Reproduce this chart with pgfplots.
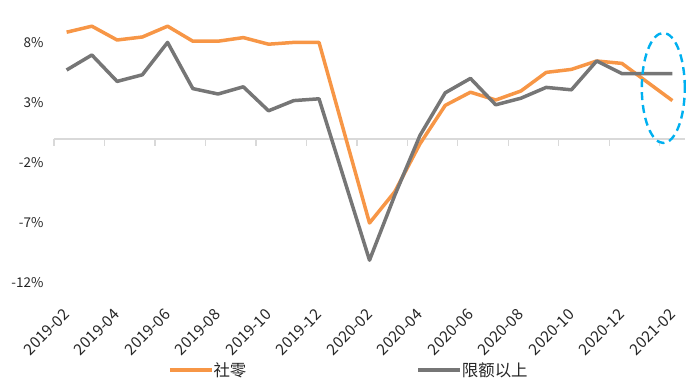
\documentclass[border=0pt]{standalone}
\usepackage{pgfplots}
\pgfplotsset{compat=1.18}
\usepackage{fontspec}
\setmainfont{Noto Sans CJK SC}
\definecolor{sorange}{RGB}{247,150,70}
\definecolor{sgrey}{RGB}{118,118,118}
\definecolor{sblue}{RGB}{0,176,240}
\definecolor{zline}{RGB}{217,217,217}
\begin{document}
\begin{tikzpicture}
\useasboundingbox (0,0) rectangle (700bp,386bp);
\begin{axis}[
  at={(54bp,103bp)}, anchor=south west,
  scale only axis, width=631bp, height=264bp,
  xmin=-0.5, xmax=24.5, ymin=-12, ymax=10,
  axis line style={draw=none},
  xtick={0,2,...,24},
  xticklabels={2019-02,2019-04,2019-06,2019-08,2019-10,2019-12,2020-02,2020-04,2020-06,2020-08,2020-10,2020-12,2021-02},
  ytick={-12,-7,-2,3,8},
  yticklabels={-12\%,-7\%,-2\%,3\%,8\%},
  major tick length=0,
  tick style={draw=none},
  ticklabel style={text=black!85},
  yticklabel style={font=\fontsize{13.5}{15}\selectfont, xshift=-7bp},
  xticklabel style={font=\fontsize{15.5}{17}\selectfont, yshift=-20bp, xshift=-4bp, rotate=45, anchor=north east},
  clip=false,
  legend style={at={(axis description cs:0.1807,-0.3295)}, anchor=west, draw=none, fill=none,
    inner sep=0pt, outer sep=0pt,
    legend columns=2, font=\fontsize{16.5}{18}\selectfont, text=black!85,
    /tikz/every odd column/.append style={column sep=0bp},
    /tikz/every even column/.append style={column sep=170bp},
    nodes={inner sep=0bp}},
  legend image code/.code={\draw[#1] (0bp,0bp) -- (42bp,0bp);},
]
\draw[zline, line width=1.3bp] (axis cs:-0.5,0) -- (axis cs:24.5,0);
\pgfplotsinvokeforeach{-0.5,1.5,3.5,5.5,7.5,9.5,11.5,13.5,15.5,17.5,19.5,21.5,23.5}{
  \draw[zline, line width=1.3bp] (axis cs:#1,0) -- ([yshift=-7bp]axis cs:#1,0);
}
\addplot[sorange, line width=3.5bp, line join=round] coordinates {
(0,8.9) (1,9.4) (2,8.25) (3,8.5) (4,9.4) (5,8.15) (6,8.15) (7,8.45) (8,7.9) (9,8.05) (10,8.05)
(12,-7.0) (13,-4.4) (14,-0.4) (15,2.8) (16,3.9) (17,3.25) (18,4.0) (19,5.55) (20,5.8) (21,6.5) (22,6.3) (24,3.2)
};
\addlegendentry{社零}
\addplot[sgrey, line width=3.5bp, line join=round] coordinates {
(0,5.75) (1,7.0) (2,4.8) (3,5.35) (4,8.05) (5,4.2) (6,3.75) (7,4.35) (8,2.35) (9,3.2) (10,3.35)
(12,-10.1) (13,-4.7) (14,0.3) (15,3.85) (16,5.05) (17,2.85) (18,3.4) (19,4.3) (20,4.1) (21,6.5) (22,5.45) (24,5.45)
};
\addlegendentry{限额以上}
\draw[sblue, line width=2.4bp, dash pattern=on 8bp off 5bp] (axis cs:23.64,4.25) ellipse [x radius=21.5bp, y radius=55bp];
\end{axis}
\end{tikzpicture}
\end{document}
